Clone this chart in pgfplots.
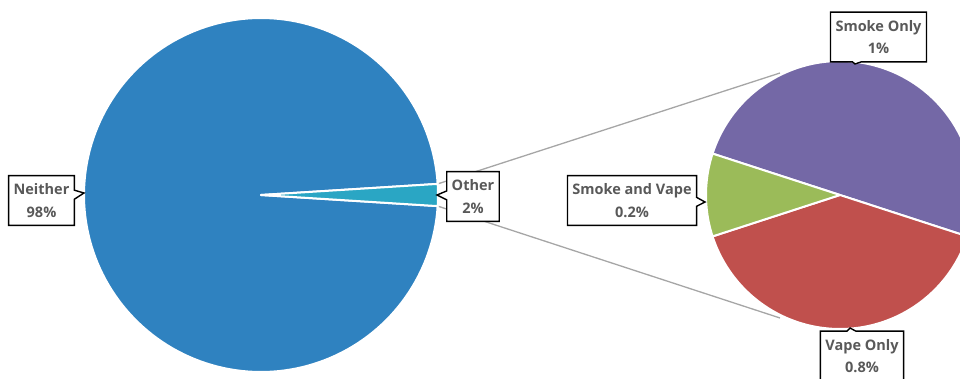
\documentclass[border=0pt]{standalone}
\usepackage{fontspec}
\setmainfont{Open Sans}
\usepackage{pgfplots}
\pgfplotsset{compat=1.18}
\usetikzlibrary{shapes.callouts}

\definecolor{neitherblue}{HTML}{2F82C0}
\definecolor{otherteal}{HTML}{2AA6C4}
\definecolor{smokepurple}{HTML}{7468A6}
\definecolor{vapered}{HTML}{C0504D}
\definecolor{bothgreen}{HTML}{9BBB59}
\definecolor{linegray}{HTML}{A6A6A6}
\definecolor{labeltext}{HTML}{595959}

% shares of respondents (percent)
\def\valNeither{98}
\def\valOther{2}
\def\valSmoke{1}
\def\valVape{0.8}
\def\valBoth{0.2}

% main pie: "Other" centred on the right-hand side
\pgfmathsetmacro\otherspan{\valOther/(\valNeither+\valOther)*360}
\pgfmathsetmacro\otherA{-\otherspan/2}
\pgfmathsetmacro\otherB{\otherspan/2}
\pgfmathsetmacro\neitherB{360-\otherspan/2}
% secondary pie: breakdown of "Other", "Smoke and Vape" centred on the left
\pgfmathsetmacro\subtotal{\valSmoke+\valVape+\valBoth}
\pgfmathsetmacro\bothspan{\valBoth/\subtotal*360}
\pgfmathsetmacro\smokespan{\valSmoke/\subtotal*360}
\pgfmathsetmacro\vapespan{\valVape/\subtotal*360}
\pgfmathsetmacro\bothA{180-\bothspan/2}
\pgfmathsetmacro\bothB{180+\bothspan/2}
\pgfmathsetmacro\smokeA{\bothA-\smokespan}
\pgfmathsetmacro\vapeB{\bothB+\vapespan}

\tikzset{
  pielabel/.style={rectangle callout, draw=black, fill=white, line width=1.4pt,
    align=center, text=labeltext, inner xsep=5pt, inner ysep=8pt,
    callout pointer width=9pt,
    font=\fontsize{14.5}{22.5}\selectfont\bfseries},
  wedge/.style={draw=white, line width=2pt, line join=round}
}

\begin{document}
\begin{tikzpicture}
\begin{axis}[x=1pt, y=1pt, xmin=0, xmax=960, ymin=0, ymax=378,
    scale only axis, hide axis, clip=true]
  % connector lines from the "Other" slice to the secondary pie
  \addplot[linegray, line width=1.3pt] coordinates {(437.7,194.1) (780,305)};
  \addplot[linegray, line width=1.3pt] coordinates {(437.7,171.9) (780,60)};

  % main pie, centre (261,183), radius 177
  \addplot[wedge, fill=neitherblue, domain=\otherB:\neitherB, samples=180, variable=\t]
    ({261+177*cos(\t)}, {183+177*sin(\t)}) -- (axis cs:261,183) -- cycle;
  \addplot[wedge, fill=otherteal, domain=\otherA:\otherB, samples=10, variable=\t]
    ({261+177*cos(\t)}, {183+177*sin(\t)}) -- (axis cs:261,183) -- cycle;

  % secondary pie, centre (840,183), radius 134
  \addplot[wedge, fill=smokepurple, domain=\smokeA:\bothA, samples=120, variable=\t]
    ({840+134*cos(\t)}, {183+134*sin(\t)}) -- (axis cs:840,183) -- cycle;
  \addplot[wedge, fill=vapered, domain=\bothB:\vapeB, samples=120, variable=\t]
    ({840+134*cos(\t)}, {183+134*sin(\t)}) -- (axis cs:840,183) -- cycle;
  \addplot[wedge, fill=bothgreen, domain=\bothA:\bothB, samples=30, variable=\t]
    ({840+134*cos(\t)}, {183+134*sin(\t)}) -- (axis cs:840,183) -- cycle;

  % data labels
  \node[pielabel, callout absolute pointer={(axis cs:84,185)}]
    at (axis cs:41.5,177.5) {Neither\\98\%};
  \node[pielabel, callout absolute pointer={(axis cs:437,183)}]
    at (axis cs:473,181.5) {Other\\2\%};
  \node[pielabel, callout absolute pointer={(axis cs:855,314)}]
    at (axis cs:878.5,341) {Smoke Only\\1\%};
  \node[pielabel, callout absolute pointer={(axis cs:705,176)}]
    at (axis cs:632,177.5) {Smoke and Vape\\0.2\%};
  \node[pielabel, callout absolute pointer={(axis cs:850,50)}]
    at (axis cs:862,22) {Vape Only\\0.8\%};
\end{axis}
\pgfresetboundingbox
\path (0,0) rectangle (960pt,378pt);
\end{tikzpicture}
\end{document}
